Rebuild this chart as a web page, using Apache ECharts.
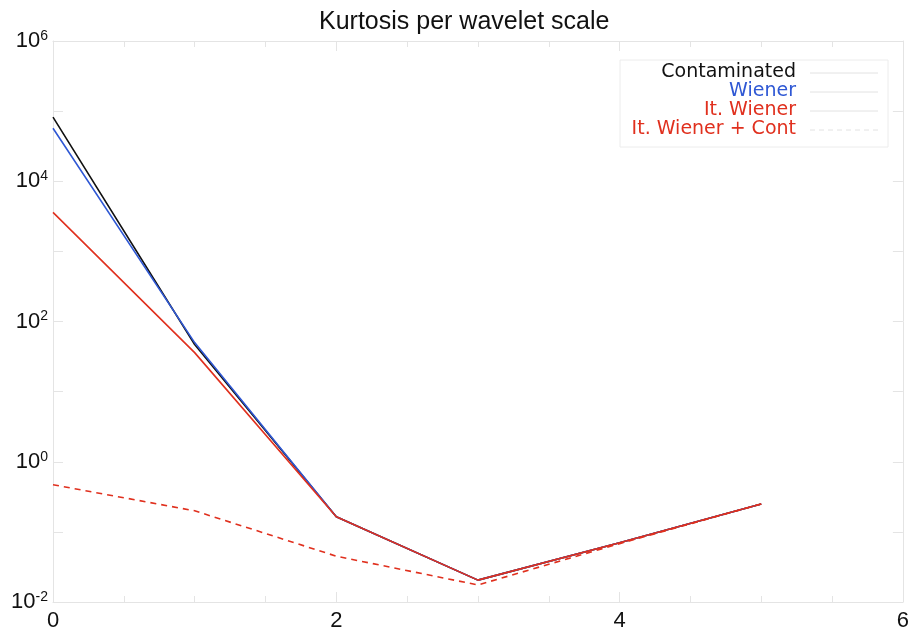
<!DOCTYPE html>
<html>
<head>
<meta charset="utf-8">
<script src="https://cdn.jsdelivr.net/npm/echarts@6/dist/echarts.min.js"></script>
<style>
  html, body { margin: 0; padding: 0; background: #fff; }
  #chart { width: 912px; height: 634px; }
</style>
</head>
<body>
<div id="chart"></div>
<script>
// Wavelet scale index (x) and kurtosis per scale for each estimate
const scales = [0, 1, 2, 3, 4, 5];
const contaminated = [82000, 47, 0.164, 0.0205, 0.07, 0.25];
const wiener = [57000, 50, 0.164, 0.0205, 0.07, 0.25];
const itWiener = [3600, 36, 0.164, 0.0205, 0.07, 0.25];
const itWienerCont = [0.47, 0.2, 0.045, 0.0175, 0.068, 0.25];

const seriesNames = ['Contaminated', 'Wiener', 'It. Wiener', 'It. Wiener + Cont'];
const seriesColors = ['#111111', '#2f58d4', '#e0301e', '#e0301e'];
const seriesData = [contaminated, wiener, itWiener, itWienerCont];

const axisGray = '#e4e4e4';
const fontMain = 'Liberation Sans, Helvetica, Arial, sans-serif';
const fontLegend = 'DejaVu Sans, Noto Sans, sans-serif';

const chart = echarts.init(document.getElementById('chart'), null, { renderer: 'canvas' });

function powerLabel(v) {
  const e = Math.round(Math.log10(v));
  if (e % 2 !== 0) return '';
  return '{b|10}{e|' + e + '}';
}

const yRich = {
  b: { fontSize: 22, fontFamily: fontMain, color: '#111', lineHeight: 24 },
  e: { fontSize: 14, fontFamily: fontMain, color: '#111', verticalAlign: 'top', lineHeight: 24, padding: [0, 0, 12, 0] }
};

// Legend box: names right-aligned, each followed by a pale line sample
const legendRight = 796;
const legendTop = 72;
const legendStep = 19;
const legendGraphics = [{
  type: 'rect',
  shape: { x: 620, y: 60, width: 268, height: 87 },
  style: { fill: '#ffffff', stroke: '#ececec', lineWidth: 1 },
  z: 20
}];
seriesNames.forEach((name, i) => {
  const cy = legendTop + i * legendStep;
  legendGraphics.push({
    type: 'text',
    x: legendRight, y: cy,
    style: {
      text: name, fill: seriesColors[i], font: '19px ' + fontLegend,
      textAlign: 'right', textVerticalAlign: 'middle'
    },
    z: 21
  });
  legendGraphics.push({
    type: 'line',
    shape: { x1: 810, y1: cy + 1, x2: 878, y2: cy + 1 },
    style: { stroke: '#e2e2e2', lineWidth: 1, lineDash: i === 3 ? [5, 4] : null },
    z: 21
  });
});

const option = {
  animation: false,
  backgroundColor: '#ffffff',
  title: {
    text: 'Kurtosis per wavelet scale',
    left: 314,
    top: 5,
    textStyle: { fontSize: 25, fontWeight: 'normal', fontFamily: fontMain, color: '#111' }
  },
  graphic: legendGraphics,
  grid: { left: 53, right: 4, top: 41, bottom: 32, containLabel: false },
  xAxis: [{
    type: 'value',
    min: 0, max: 6, interval: 2,
    axisLine: { show: true, onZero: false, lineStyle: { color: axisGray } },
    axisTick: { show: true, inside: true, length: 10, lineStyle: { color: axisGray } },
    minorTick: { show: true, splitNumber: 4, length: 6, lineStyle: { color: axisGray } },
    splitLine: { show: false },
    axisLabel: { fontSize: 22, fontFamily: fontMain, color: '#111', margin: 8 }
  }, {
    type: 'value', position: 'top',
    min: 0, max: 6, interval: 2,
    axisLine: { show: true, onZero: false, lineStyle: { color: axisGray } },
    axisTick: { show: true, inside: true, length: 10, lineStyle: { color: axisGray } },
    minorTick: { show: true, splitNumber: 4, length: 6, lineStyle: { color: axisGray } },
    splitLine: { show: false },
    axisLabel: { show: false }
  }],
  yAxis: [{
    type: 'log', logBase: 10,
    min: 0.01, max: 1e6,
    axisLine: { show: true, onZero: false, lineStyle: { color: axisGray } },
    axisTick: { show: true, inside: true, length: 10, lineStyle: { color: axisGray } },
    splitLine: { show: false },
    axisLabel: { formatter: powerLabel, rich: yRich, margin: 5 }
  }, {
    type: 'log', logBase: 10, position: 'right',
    min: 0.01, max: 1e6,
    axisLine: { show: true, onZero: false, lineStyle: { color: axisGray } },
    axisTick: { show: true, inside: true, length: 10, lineStyle: { color: axisGray } },
    splitLine: { show: false },
    axisLabel: { show: false }
  }],
  series: seriesData.map((vals, i) => ({
    name: seriesNames[i],
    type: 'line',
    xAxisIndex: 0,
    yAxisIndex: 0,
    data: scales.map((s, k) => [s, vals[k]]),
    symbol: 'none',
    z: 2 + i,
    lineStyle: {
      color: seriesColors[i],
      width: 1.6,
      type: i === 3 ? [6, 5] : 'solid'
    },
    itemStyle: { color: seriesColors[i] }
  }))
};

chart.setOption(option);
</script>
</body>
</html>
